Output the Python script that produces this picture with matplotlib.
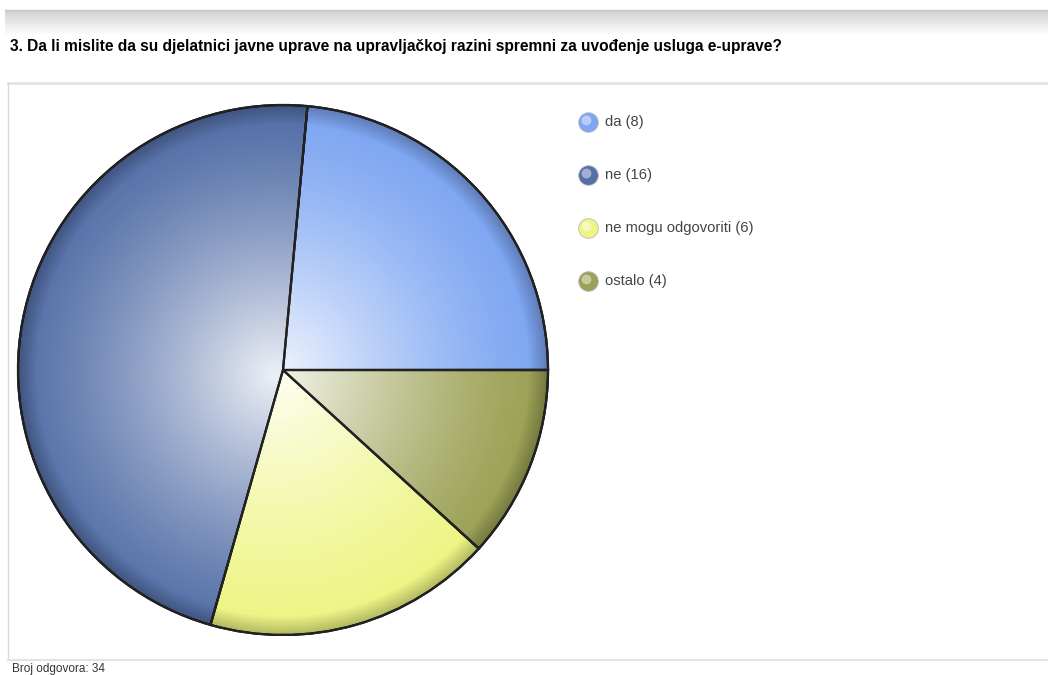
import numpy as np
import matplotlib
matplotlib.use("Agg")
from matplotlib import pyplot as plt
from matplotlib.patches import Circle, Wedge

plt.rcParams['font.family'] = ['Liberation Sans', 'DejaVu Sans']

title = "3. Da li mislite da su djelatnici javne uprave na upravljačkoj razini spremni za uvođenje usluga e-uprave?"
labels = ["da", "ne", "ne mogu odgovoriti", "ostalo"]
counts = [8, 16, 6, 4]
colors = ["#7ea6f2", "#5570a8", "#eef583", "#9ba155"]
footer = "Broj odgovora: 34"

W, H = 1048, 675
fig = plt.figure(figsize=(W / 100, H / 100), dpi=100)
ax = fig.add_axes([0, 0, 1, 1])

###############################
### page frame (y measured from top, flipped to y-up)
def yy(y):
    return H - y

# grey band at the top
band = np.linspace(0.82, 1.0, 60).reshape(-1, 1) * np.ones((1, 10))
ax.imshow(band, cmap="gray", vmin=0, vmax=1, extent=(5, W, yy(36), yy(10)),
          aspect="auto", zorder=0, interpolation="bicubic")
ax.plot([5, W], [yy(10), yy(10)], color="#c8c8c8", lw=1)
ax.plot([8, W], [yy(83), yy(83)], color="#e3e3e3", lw=2)
ax.plot([8, 8], [yy(83), yy(660)], color="#d8d8d8", lw=1)
ax.plot([8, W], [yy(660), yy(660)], color="#e3e3e3", lw=1.5)

ax.text(10, yy(47), title, fontsize=11.2, fontweight="bold", va="center", ha="left")
ax.text(12, yy(669), footer, fontsize=8.5, va="center", ha="left", color="#333333")

###############################
### pie
cx, cy, R = 283, yy(370), 265
wedges, _ = ax.pie(counts, colors=colors, startangle=0, counterclock=True,
                   center=(cx, cy), radius=R,
                   wedgeprops=dict(edgecolor="black", linewidth=1.6))

# shading: white glow in the middle, darker rim
gx = np.linspace(cx - R, cx + R, 400)
gy = np.linspace(cy - R, cy + R, 400)
X, Y = np.meshgrid(gx, gy)
r = np.hypot(X - (cx - 8), Y - (cy - 5)) / R
glow = np.zeros((400, 400, 4))
glow[..., :3] = 1.0
glow[..., 3] = np.clip(0.9 * (1 - r) ** 1.3, 0, 1)
im = ax.imshow(glow, extent=(cx - R, cx + R, cy - R, cy + R), origin="lower", zorder=3)
im.set_clip_path(Circle((cx, cy), R, transform=ax.transData))

rr = np.hypot(X - cx, Y - cy) / R
rim = np.zeros((400, 400, 4))
rim[..., 3] = np.clip((rr - 0.93) / 0.07, 0, 1) * 0.25
im2 = ax.imshow(rim, extent=(cx - R, cx + R, cy - R, cy + R), origin="lower", zorder=3)
im2.set_clip_path(Circle((cx, cy), R, transform=ax.transData))

# redraw outlines on top of the shading
for w in wedges:
    w2 = Wedge(w.center, w.r, w.theta1, w.theta2,
               facecolor="none", edgecolor="#222222", lw=1.6, zorder=4)
    ax.add_patch(w2)

###############################
### legend
ly = [122, 175, 228, 281]
for lab, n, c, y in zip(labels, counts, colors, ly):
    ax.scatter([588], [yy(y)], s=200, color=c, edgecolor="#bbbbbb", linewidth=0.6, zorder=5)
    ax.scatter([586], [yy(y) + 2], s=50, color="white", alpha=0.45, linewidth=0, zorder=6)
    ax.text(605, yy(y), f"{lab} ({n})", fontsize=10.6, va="center", ha="left", color="#444444")

ax.set_xlim(0, W)
ax.set_ylim(0, H)
ax.set_aspect("auto")
ax.axis("off")
fig.savefig("out.png", dpi=100)
